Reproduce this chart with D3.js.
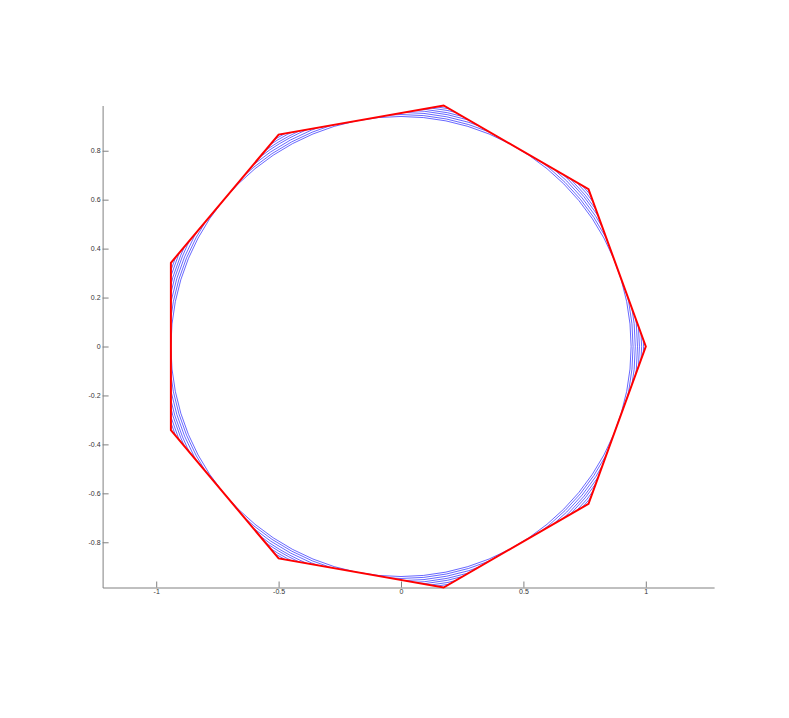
<!DOCTYPE html>
<html>
<head>
<meta charset="utf-8">
<script src="https://cdn.jsdelivr.net/npm/d3@7"></script>
<style>
  body { margin: 0; background: #fff; }
  .axis path, .axis line { stroke: #808080; stroke-width: 1; }
  .axis text { font-family: "Liberation Sans", Arial, sans-serif; font-size: 7px; fill: #333; }
</style>
</head>
<body>
<div id="chart"></div>
<script>
// figure size and MATLAB-like axes box (axis equal, tight y)
var svgWidth = 789;
var svgHeight = 718;
var box = { left: 102.6, top: 105.5, width: 611.5, height: 482 };

// axis limits and ticks
var xLim = [-1.219, 1.279];
var yLim = [-0.9848, 0.9848];
var xTicks = [-1, -0.5, 0, 0.5, 1];
var yTicks = [-0.8, -0.6, -0.4, -0.2, 0, 0.2, 0.4, 0.6, 0.8];

// red nonagon vertices
var vertexX = [1, 0.766, 0.174, -0.5, -0.940, -0.940, -0.5, 0.174, 0.766];
var vertexY = [0, 0.643, 0.985, 0.866, 0.342, -0.342, -0.866, -0.985, -0.643];

// radii of the blue circles, cut off by the nonagon (incircle -> near the vertices)
var circleRadii = [0.940, 0.948, 0.957, 0.966, 0.974, 0.983, 0.991];

var svg = d3.select("#chart")
  .append("svg")
  .attr("width", svgWidth)
  .attr("height", svgHeight);

var x = d3.scaleLinear().domain(xLim).range([box.left, box.left + box.width]);
var y = d3.scaleLinear().domain(yLim).range([box.top + box.height, box.top]);

function fmt(d) {
  return d3.format("~g")(d).replace("−", "-");
}

// axes (ticks pointing inward, no box)
svg.append("g")
  .attr("class", "axis")
  .attr("transform", `translate(0, ${box.top + box.height})`)
  .call(d3.axisBottom(x).tickValues(xTicks).tickFormat(fmt)
    .tickSizeInner(-6).tickSizeOuter(0).tickPadding(2));

svg.append("g")
  .attr("class", "axis")
  .attr("transform", `translate(${box.left}, 0)`)
  .call(d3.axisLeft(y).tickValues(yTicks).tickFormat(fmt)
    .tickSizeInner(-6).tickSizeOuter(0).tickPadding(2));

var pts = vertexX.map((vx, i) => [vx, vertexY[i]]);

var line = d3.line()
  .x(d => x(d[0]))
  .y(d => y(d[1]));

var polyPath = line(pts.concat([pts[0]])) + "Z";

// clip the circles to the inside of the polygon
svg.append("defs")
  .append("clipPath")
  .attr("id", "polyClip")
  .append("path")
  .attr("d", polyPath);

svg.append("g")
  .attr("clip-path", "url(#polyClip)")
  .selectAll("ellipse")
  .data(circleRadii)
  .enter()
  .append("ellipse")
  .attr("cx", x(0))
  .attr("cy", y(0))
  .attr("rx", r => x(r) - x(0))
  .attr("ry", r => y(0) - y(r))
  .attr("fill", "none")
  .attr("stroke", "#0000ff")
  .attr("stroke-width", 0.6);

// red polygon on top
svg.append("path")
  .attr("d", polyPath)
  .attr("fill", "none")
  .attr("stroke", "#ff0000")
  .attr("stroke-width", 2)
  .attr("stroke-linejoin", "miter");
</script>
</body>
</html>
